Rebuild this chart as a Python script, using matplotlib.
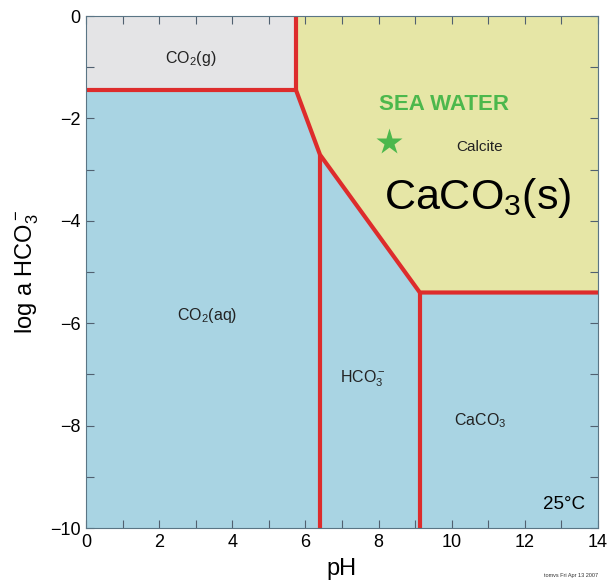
import numpy as np
import matplotlib
matplotlib.use("Agg")
import matplotlib.pyplot as plt
from matplotlib.patches import Polygon
from matplotlib.ticker import MultipleLocator

plt.rcParams["font.family"] = ["Liberation Sans", "DejaVu Sans"]
plt.rcParams["mathtext.fontset"] = "custom"
plt.rcParams["mathtext.rm"] = "Liberation Sans"
plt.rcParams["mathtext.it"] = "Liberation Sans"

# boundary vertices (pH, log a HCO3-)
gas_pH = 5.74          # CO2(g) / calcite
gas_log = -1.44        # CO2(g) / CO2(aq)
kink_pH, kink_log = 6.40, -2.71
carb_pH, carb_log = 9.13, -5.40
XMIN, XMAX, YMIN, YMAX = 0, 14, -10, 0

# region labels
labels = [
    ("CO$_2$(g)", 2.85, -0.82, 11.5, "#222222"),
    ("CO$_2$(aq)", 3.3, -5.85, 11.5, "#222222"),
    ("HCO$_3^-$", 7.57, -7.08, 11.5, "#222222"),
    ("CaCO$_3$", 10.77, -7.9, 11.5, "#222222"),
    ("Calcite", 10.75, -2.55, 11, "#222222"),
]
sea_pH, sea_log = 8.3, -2.46

GRAY, BLUE, YELLOW, RED = "#e4e4e6", "#a9d4e3", "#e6e6a6", "#dd2c2c"

fig = plt.figure(figsize=(6.07, 5.85), dpi=100)
ax = fig.add_axes([0.1417, 0.0974, 0.8433, 0.8752])
ax.set_xlim(XMIN, XMAX)
ax.set_ylim(YMIN, YMAX)
ax.set_facecolor(BLUE)

ax.add_patch(Polygon([(XMIN, YMAX), (gas_pH, YMAX), (gas_pH, gas_log), (XMIN, gas_log)],
                     closed=True, fc=GRAY, ec="none", zorder=1))
ax.add_patch(Polygon([(gas_pH, YMAX), (XMAX, YMAX), (XMAX, carb_log), (carb_pH, carb_log),
                      (kink_pH, kink_log), (gas_pH, gas_log)],
                     closed=True, fc=YELLOW, ec="none", zorder=1))

lw = 3
ax.plot([XMIN, gas_pH], [gas_log, gas_log], color=RED, lw=lw, zorder=3, solid_capstyle="butt")
ax.plot([gas_pH, gas_pH], [YMAX, gas_log], color=RED, lw=lw, zorder=3, solid_capstyle="butt")
ax.plot([gas_pH, kink_pH, carb_pH, XMAX], [gas_log, kink_log, carb_log, carb_log],
        color=RED, lw=lw, zorder=3, solid_joinstyle="miter")
ax.plot([kink_pH, kink_pH], [kink_log, YMIN], color=RED, lw=lw, zorder=3, solid_capstyle="butt")
ax.plot([carb_pH, carb_pH], [carb_log, YMIN], color=RED, lw=lw, zorder=3, solid_capstyle="butt")

for txt, x, y, fs, c in labels:
    ax.text(x, y, txt, ha="center", va="center", fontsize=fs, color=c, zorder=4)

ax.text(9.8, -1.72, "SEA WATER", ha="center", va="center", fontsize=16,
        fontweight="bold", color="#4cb84c", zorder=4)
ax.plot([sea_pH], [sea_log], marker="*", ms=20, color="#4cb84c", mec="none", zorder=4)
ax.text(10.72, -3.55, "CaCO$_3$(s)", ha="center", va="center", fontsize=31,
        color="black", zorder=4)
ax.text(13.65, -9.55, "25°C", ha="right", va="center", fontsize=13.5, color="black", zorder=4)

ax.xaxis.set_major_locator(MultipleLocator(2))
ax.xaxis.set_minor_locator(MultipleLocator(1))
ax.yaxis.set_major_locator(MultipleLocator(2))
ax.yaxis.set_minor_locator(MultipleLocator(1))
ax.tick_params(which="both", direction="in", top=True, right=True, color="#506070",
               labelsize=13, pad=4)
ax.tick_params(which="major", length=6, width=0.8)
ax.tick_params(which="minor", length=6, width=0.8)
for sp in ax.spines.values():
    sp.set_color("#5a7585")
    sp.set_linewidth(0.8)
    sp.set_zorder(5)

ax.set_xlabel("pH", fontsize=17, labelpad=5)
ax.set_ylabel("log a HCO$_3^-$", fontsize=17, labelpad=6)

fig.text(0.985, 0.012, "tomvs Fri Apr 13 2007", ha="right", va="bottom", fontsize=4, color="#333333")

fig.savefig("out.png", dpi=100)
